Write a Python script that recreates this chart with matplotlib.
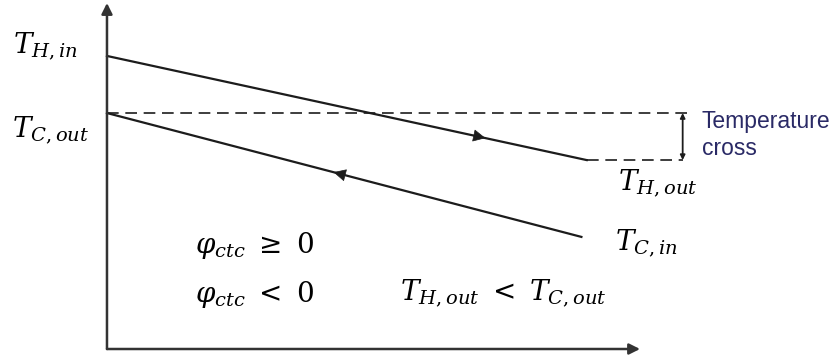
import numpy as np
import matplotlib.pyplot as plt

plt.rcParams['mathtext.fontset'] = 'dejavuserif'

# stream end points: position along the exchanger and temperature
hot_pos = [0.0, 9.0]
hot_temp = [84.7, 54.6]       # T_H,in -> T_H,out
cold_pos = [0.0, 8.9]
cold_temp = [68.2, 32.4]      # T_C,out <- T_C,in
cross_pos = 10.8              # where the temperature cross is marked
flow_arrow_pos = [7.1, 4.25]  # hot flows right, cold flows left

x_max, y_max = 10.0, 100.0
line_col = '#1c1c1c'

fig = plt.figure(figsize=(8.38, 3.58), dpi=100)
ax = fig.add_axes([0, 0, 1, 1])
ax.set_xlim(-2.007, 13.714)
ax.set_ylim(-2.6, 100.87)
ax.axis('off')

# axes with arrow heads
axis_arrow = dict(arrowstyle='-|>', color='#333333', lw=1.8, mutation_scale=16,
                  shrinkA=0, shrinkB=0)
ax.annotate('', xy=(x_max, 0), xytext=(0, 0), arrowprops=axis_arrow)
ax.annotate('', xy=(0, y_max), xytext=(0, 0), arrowprops=axis_arrow)

# hot and cold streams
ax.plot(hot_pos, hot_temp, color=line_col, lw=1.6)
ax.plot(cold_pos, cold_temp, color=line_col, lw=1.6)

# flow direction arrows
head = dict(arrowstyle='-|>', color=line_col, lw=0.5, mutation_scale=20,
            shrinkA=0, shrinkB=0)
hx = flow_arrow_pos[0]
ax.annotate('', xy=(hx, np.interp(hx, hot_pos, hot_temp)),
            xytext=(hx - 0.3, np.interp(hx - 0.3, hot_pos, hot_temp)), arrowprops=head)
cx = flow_arrow_pos[1]
ax.annotate('', xy=(cx, np.interp(cx, cold_pos, cold_temp)),
            xytext=(cx + 0.3, np.interp(cx + 0.3, cold_pos, cold_temp)), arrowprops=head)

# dashed reference levels
dash = dict(color=line_col, lw=1.2, ls=(0, (7, 4)))
ax.plot([0, cross_pos + 0.15], [cold_temp[0]] * 2, **dash)
ax.plot([hot_pos[1], cross_pos], [hot_temp[1]] * 2, **dash)

# temperature cross marker
ax.annotate('', xy=(cross_pos, cold_temp[0]), xytext=(cross_pos, hot_temp[1]),
            arrowprops=dict(arrowstyle='<|-|>', color=line_col, lw=1.3,
                            mutation_scale=7, shrinkA=0, shrinkB=0))
ax.text(11.16, 63.9, 'Temperature', fontsize=16.5, family='Liberation Sans',
        color='#2a2a66', va='baseline')
ax.text(11.16, 56.1, 'cross', fontsize=16.5, family='Liberation Sans',
        color='#2a2a66', va='baseline')

# labels
fs = 20
ax.text(-1.76, 85.5, r'$T_{H,in}$', fontsize=fs, va='baseline')
ax.text(-1.78, 61.3, r'$T_{C,out}$', fontsize=fs, va='baseline')
ax.text(9.59, 46.0, r'$T_{H,out}$', fontsize=fs, va='baseline')
ax.text(9.53, 28.6, r'$T_{C,in}$', fontsize=fs, va='baseline')
ax.text(1.65, 27.7, r'$\varphi_{ctc}\ \geq\ 0$', fontsize=fs, va='baseline')
ax.text(1.65, 13.6, r'$\varphi_{ctc}\ <\ 0$', fontsize=fs, va='baseline')
ax.text(5.5, 14.2, r'$T_{H,out}\ <\ T_{C,out}$', fontsize=fs, va='baseline')

fig.savefig('out.png', dpi=100)
